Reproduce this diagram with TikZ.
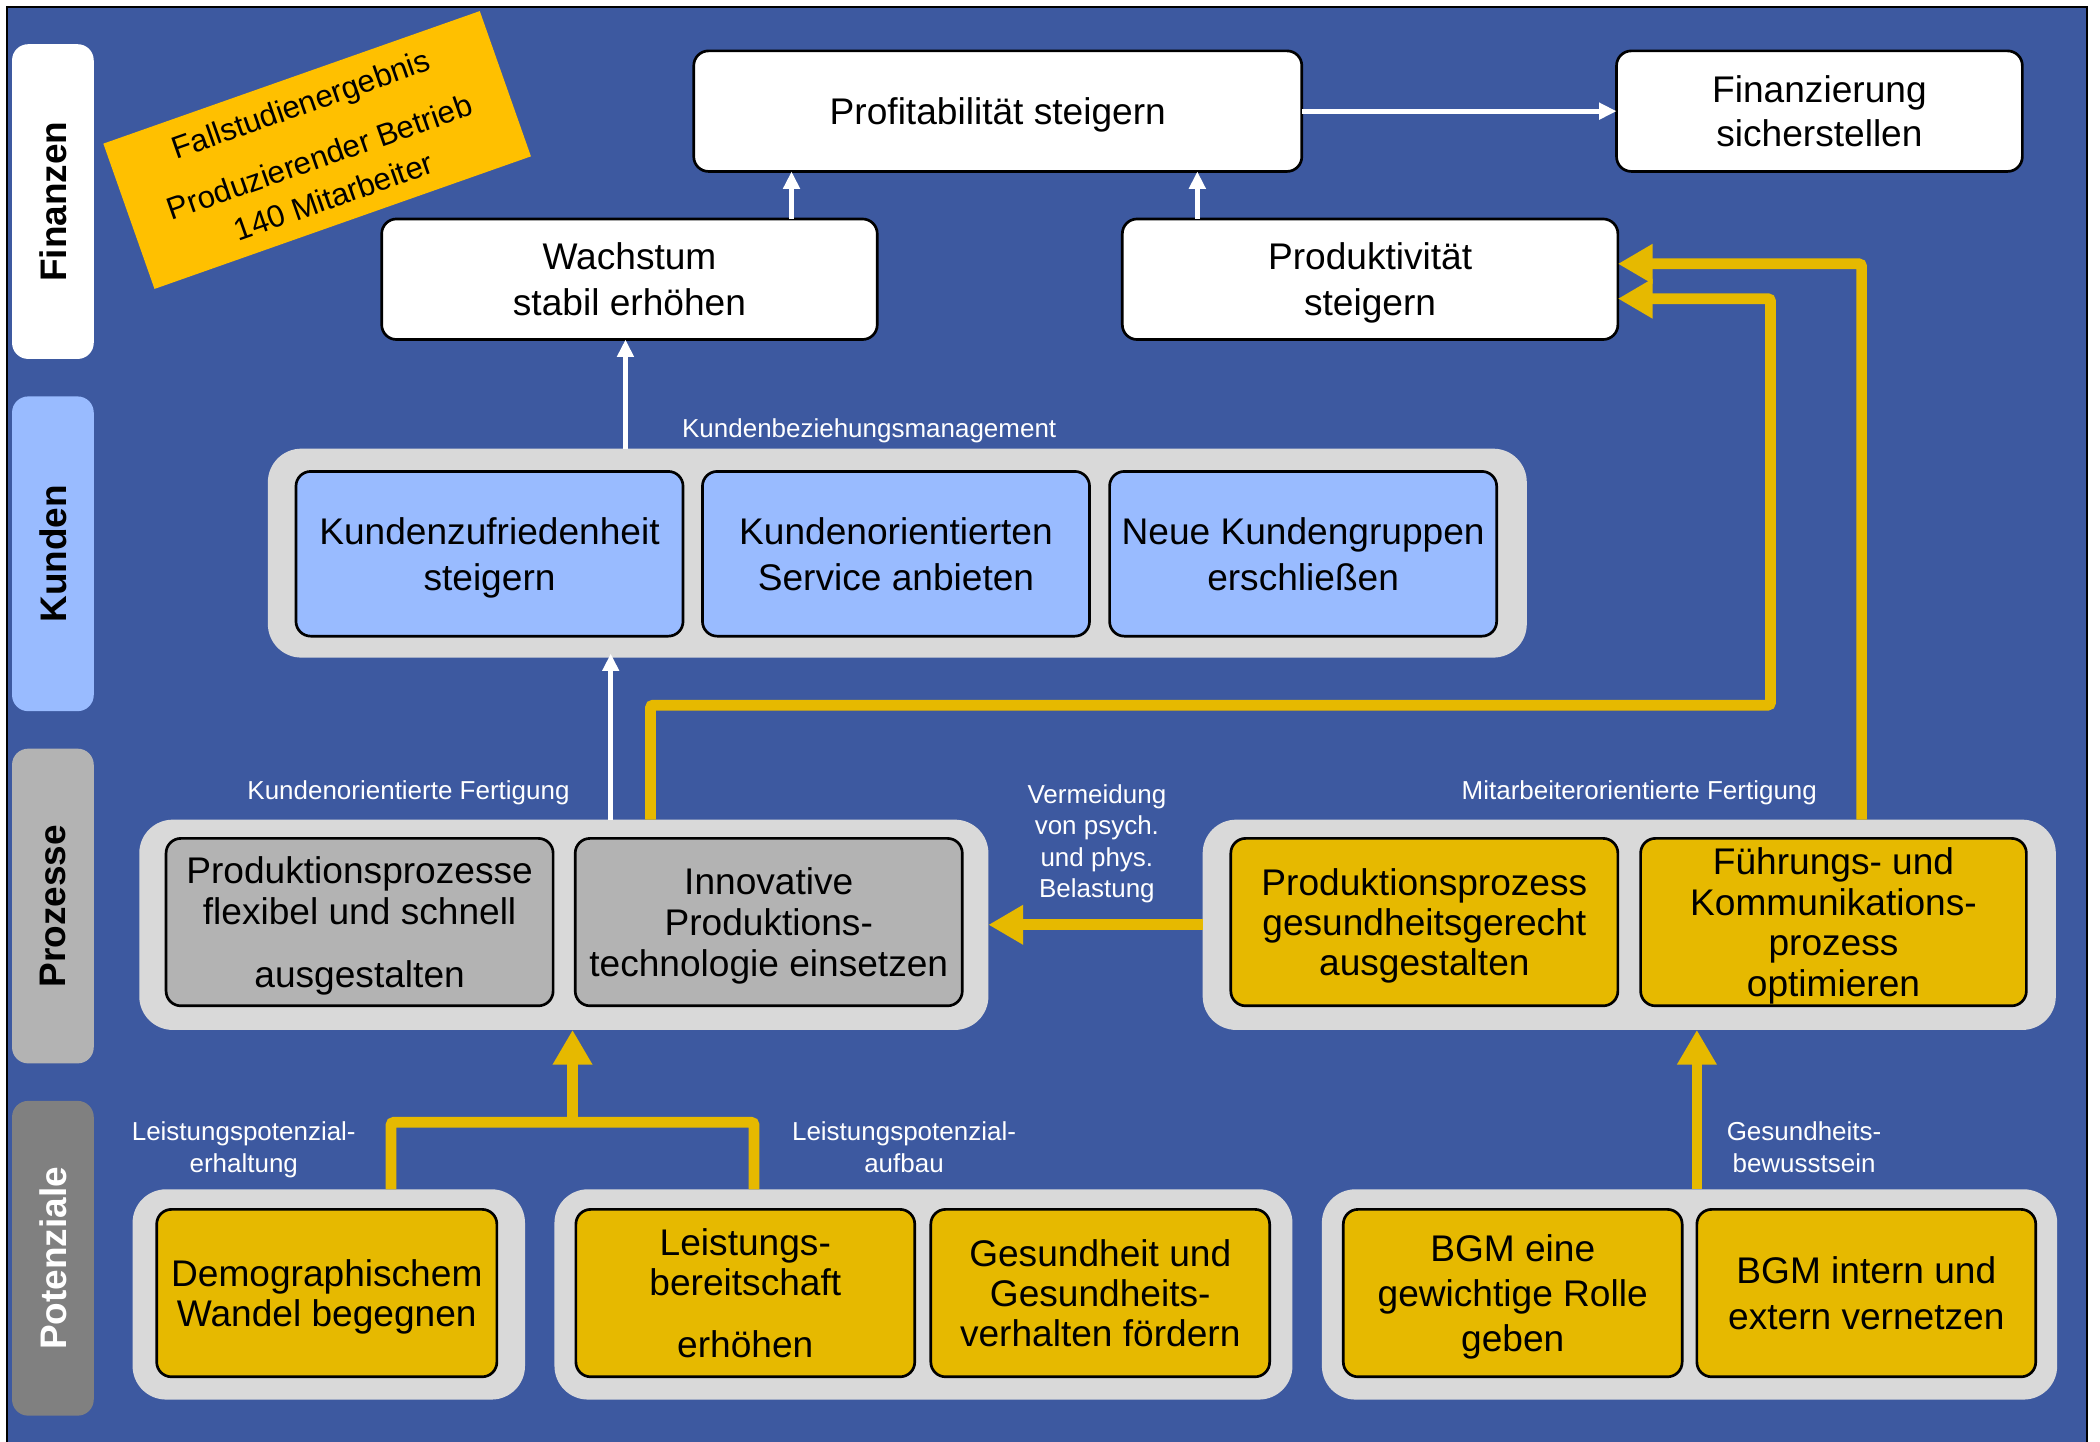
\documentclass[tikz,border=0pt]{standalone}
\usepackage{fontspec}
\setmainfont{Liberation Sans}
\usetikzlibrary{arrows.meta,calc}

\definecolor{bgblue}{RGB}{61,89,160}
\definecolor{ylw}{RGB}{230,185,0}
\definecolor{noteorange}{RGB}{255,192,0}
\definecolor{kblue}{RGB}{153,187,255}
\definecolor{pgray}{RGB}{179,179,179}
\definecolor{contgray}{RGB}{217,217,217}
\definecolor{lanedark}{RGB}{128,128,128}

\begin{document}
\begin{tikzpicture}[x=1pt,y=-1pt,
  every node/.style={inner sep=0pt, outer sep=0pt},
  goal/.style={draw=black, line width=2pt, rounded corners=11pt, align=center, text depth=0pt},
  ls/.style={font=\fontsize{27.7}{#1}\selectfont},
  wgoal/.style={goal, fill=white},
  bgoal/.style={goal, fill=kblue},
  ggoal/.style={goal, fill=pgray},
  ygoal/.style={goal, fill=ylw},
  group/.style={fill=contgray, rounded corners=25pt},
  lane/.style={rounded corners=12pt, rotate=90, minimum width=235pt, minimum height=61pt,
               font=\fontsize{27.6}{30}\selectfont\bfseries},
  lbl/.style={text=white, align=center, text depth=0pt, font=\fontsize{19.4}{23.5}\selectfont},
  warrow/.style={draw=white, line width=3.5pt, -{Triangle[length=13pt,width=12pt]}},
  yline/.style={draw=ylw, line width=8pt, rounded corners=2pt},
  yarrow/.style={yline, -{Triangle[length=26pt,width=28pt]}},
]
% canvas and frame
\useasboundingbox (0,0) rectangle (1568,1076);
\clip (0,0) rectangle (1568,1076);
\fill[white] (0,0) rectangle (1568,1076);
\draw[fill=bgblue, line width=1.5pt] (5,5) rectangle (1558,1095);

% perspective lanes
\node[lane, fill=white] (lfin) at (39.5,150.5) {Finanzen};
\node[lane, fill=kblue] (lkun) at (39.5,413.5) {Kunden};
\node[lane, fill=pgray] (lpro) at (39.5,676.5) {Prozesse};
\node[lane, fill=lanedark, text=white] (lpot) at (39.5,939.5) {Potenziale};

% case study note
\node[fill=noteorange, rotate=19.4, minimum width=298pt, minimum height=115pt, align=center,
      font=\fontsize{23.3}{31}\selectfont] (note) at (236.8,112)
  {Fallstudienergebnis\\[11pt]Produzierender Betrieb\\140 Mitarbeiter};

% finance goals
\node[wgoal, ls=34, minimum width=454pt, minimum height=90pt] (profit) at (745,83) {Profitabilität steigern};
\node[wgoal, ls=33, minimum width=303pt, minimum height=90pt] (finanz) at (1358.5,83) {Finanzierung\\sicherstellen};
\node[wgoal, ls=34, minimum width=370pt, minimum height=90pt] (wachs) at (470,208.5) {Wachstum\\stabil erhöhen};
\node[wgoal, ls=34, minimum width=370pt, minimum height=90pt] (prod) at (1023,208.5) {Produktivität\\steigern};

% customer goals
\node[group, minimum width=940pt, minimum height=156pt] (kgroup) at (670,413) {};
\node[bgoal, ls=34, minimum width=289pt, minimum height=123pt] (kz) at (365.5,413.5) {Kundenzufriedenheit\\steigern};
\node[bgoal, ls=34, minimum width=289pt, minimum height=123pt] (ks) at (669,413.5) {Kundenorientierten\\Service anbieten};
\node[bgoal, ls=34, minimum width=289pt, minimum height=123pt] (kn) at (973,413.5) {Neue Kundengruppen\\erschließen};

% process goals
\node[group, minimum width=634pt, minimum height=157pt] (plgroup) at (421,690.5) {};
\node[ggoal, ls=31, minimum width=289pt, minimum height=125pt] (pp1) at (268.5,688.5)
  {Produktionsprozesse\\flexibel und schnell\\[16pt]ausgestalten};
\node[ggoal, ls=30.5, minimum width=289pt, minimum height=125pt] (pp2) at (574,688.5)
  {Innovative\\Produktions-\\technologie einsetzen};
\node[group, minimum width=637pt, minimum height=157pt] (prgroup) at (1216.5,690.5) {};
\node[ygoal, ls=30, minimum width=289pt, minimum height=125pt] (pr1) at (1063.5,688.5)
  {Produktionsprozess\\gesundheitsgerecht\\ausgestalten};
\node[ygoal, ls=30.5, minimum width=288pt, minimum height=125pt] (pr2) at (1369,688.5)
  {Führungs- und\\Kommunikations-\\prozess\\optimieren};

% potential goals
\node[group, minimum width=293pt, minimum height=157pt] (pg1) at (245.5,966.5) {};
\node[ygoal, ls=30, minimum width=254pt, minimum height=125pt] (po1) at (244,965.5)
  {Demographischem\\Wandel begegnen};
\node[group, minimum width=551pt, minimum height=157pt] (pg2) at (689.5,966.5) {};
\node[ygoal, ls=30, minimum width=253pt, minimum height=125pt] (po2) at (556.5,965.5)
  {Leistungs-\\bereitschaft\\[16pt]erhöhen};
\node[ygoal, ls=30, minimum width=253pt, minimum height=125pt] (po3) at (821.5,965.5)
  {Gesundheit und\\Gesundheits-\\verhalten fördern};
\node[group, minimum width=549pt, minimum height=157pt] (pg3) at (1261.5,966.5) {};
\node[ygoal, ls=33.5, minimum width=253pt, minimum height=125pt] (po4) at (1129.5,965.5)
  {BGM eine\\gewichtige Rolle\\geben};
\node[ygoal, ls=34, minimum width=253pt, minimum height=125pt] (po5) at (1393.5,965.5)
  {BGM intern und\\extern vernetzen};

% connector labels
\node[lbl] (lblkbm) at (649,320) {Kundenbeziehungsmanagement};
\node[lbl] (lblkf) at (305,590) {Kundenorientierte Fertigung};
\node[lbl] (lblmf) at (1224,590) {Mitarbeiterorientierte Fertigung};
\node[lbl] (lblverm) at (819,628) {Vermeidung\\von psych.\\und phys.\\Belastung};
\node[lbl] (lble) at (182,856.5) {Leistungspotenzial-\\erhaltung};
\node[lbl] (lbla) at (675,856.5) {Leistungspotenzial-\\aufbau};
\node[lbl] (lblg) at (1347,856.5) {Gesundheits-\\bewusstsein};

% white cause-effect links
\draw[warrow] (profit.east) -- (finanz.west);
\coordinate (wx) at ([xshift=121pt]wachs.north);
\draw[warrow] (wx) -- (wx |- profit.south);
\coordinate (px) at ([xshift=-129pt]prod.north);
\draw[warrow] (px) -- (px |- profit.south);
\coordinate (kx) at ([xshift=-3pt]wachs.south |- kgroup.north);
\draw[warrow] (kx) -- (kx |- wachs.south);
\coordinate (plx) at ([xshift=35pt]plgroup.north);
\draw[warrow, shorten >=-3pt] (plx) -- (plx |- kgroup.south);

% yellow links
\coordinate (innx) at ([xshift=64.7pt]plgroup.north);
\draw[yarrow] (innx) |- (1322,526.5) |- ([yshift=-14.5pt]prod.east);
\coordinate (fkx) at ([xshift=173.5pt]prgroup.north);
\draw[yarrow] (fkx) |- ([yshift=11.5pt]prod.east);
\draw[yarrow] (prgroup.west) -- (plgroup.east);
\coordinate (pjoin) at (427.5,838);
\coordinate (pg1x) at ([xshift=46.5pt]pg1.north);
\coordinate (pg2x) at ([xshift=-126.5pt]pg2.north);
\draw[yline] (pg1x) |- (pjoin) -| (pg2x);
\draw[yarrow] (pjoin) -- (pjoin |- plgroup.south);
\coordinate (pg3x) at ([xshift=5.5pt]pg3.north);
\draw[yarrow] (pg3x) -- (pg3x |- prgroup.south);
\end{tikzpicture}
\end{document}
